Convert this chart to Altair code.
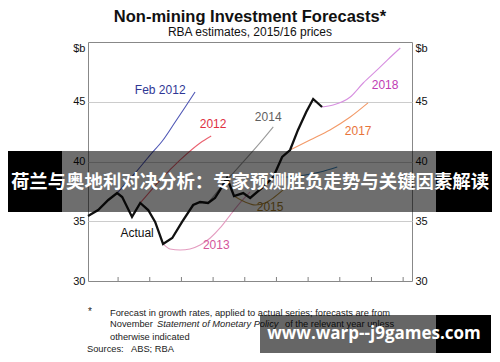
import altair as alt
import pandas as pd

W, H = 324, 239
FONT = "Liberation Sans"

TITLE = "Non-mining Investment Forecasts*"
SUBTITLE = "RBA estimates, 2015/16 prices"

# ---- data ----
ACTUAL_T = [2011.05, 2011.37, 2011.69, 2011.97, 2012.13, 2012.44, 2012.70, 2012.95, 2013.17,
            2013.42, 2013.71, 2014.02, 2014.37, 2014.59, 2014.84, 2015.06, 2015.22, 2015.44,
            2015.66, 2015.95, 2016.17, 2016.58, 2016.90, 2017.18, 2017.43, 2017.68, 2017.94,
            2018.16, 2018.44]
ACTUAL_V = [35.44, 35.94, 36.78, 37.36, 37.03, 35.36, 36.53, 35.94, 34.94,
            33.10, 33.60, 34.94, 36.36, 36.61, 36.53, 36.95, 37.62, 38.62,
            37.11, 37.36, 36.95, 37.87, 38.70, 40.38, 40.96, 42.64, 44.14,
            45.23, 44.56]

FEB2012_T = [2011.97, 2012.54, 2013.01, 2013.42, 2013.74, 2014.12, 2014.43]
FEB2012_V = [37.36, 39.04, 40.54, 41.80, 43.05, 44.56, 45.82]
F2012_T = [2012.70, 2013.33, 2013.96, 2014.59, 2014.94]
F2012_V = [36.53, 38.45, 40.13, 41.55, 42.13]
F2013_T = [2013.42, 2013.64, 2013.96, 2014.27, 2014.59, 2014.91, 2015.22, 2015.54, 2015.85, 2016.17]
F2013_V = [33.10, 32.68, 32.59, 32.68, 33.01, 33.60, 34.44, 35.52, 36.53, 37.45]
F2014_T = [2014.84, 2015.44, 2015.95, 2016.48, 2016.90]
F2014_V = [36.53, 38.45, 39.96, 41.55, 42.89]
F2015_T = [2015.66, 2016.01, 2016.33, 2016.64, 2016.90, 2017.21]
F2015_V = [37.11, 36.61, 36.36, 36.53, 36.95, 37.62]
F2016_T = [2016.90, 2017.43, 2017.91, 2018.38, 2018.92]
F2016_V = [38.70, 38.70, 38.87, 39.12, 39.54]
F2017_T = [2017.43, 2018.06, 2018.69, 2019.33, 2019.89]
F2017_V = [40.96, 41.80, 42.64, 43.72, 44.90]
F2018_T = [2018.44, 2018.79, 2019.33, 2019.74, 2020.18, 2020.50, 2020.91]
F2018_V = [44.56, 44.73, 45.40, 46.57, 47.66, 48.49, 49.50]

SERIES = ["Feb 2012", "2012", "2013", "2014", "2015", "2016", "2017", "2018"]
LINE_COLORS = ["#4f57b5", "#ea6270", "#e49cc0", "#9a9a9a", "#b89040", "#3f86bb", "#f39a68", "#d78fe0"]

LABEL_TEXT = ["Feb 2012", "2012", "2013", "2014", "2015", "2017", "2018", "Actual"]
LABEL_T = [2013.33, 2015.00, 2015.10, 2016.74, 2016.80, 2019.58, 2020.43, 2012.60]
LABEL_V = [45.98, 43.14, 33.01, 43.72, 36.19, 42.55, 46.40, 34.02]
LABEL_COLOR = ["#2f3795", "#e0303f", "#d4559a", "#5f5f5f", "#a07a26", "#e8743a", "#c03cb4", "#111111"]

Y_TICKS = [30, 35, 40, 45, 50]
X_LABEL_YEARS = [2012, 2014, 2016, 2018, 2020]
X_TICK_YEARS = [2012, 2013, 2014, 2015, 2016, 2017, 2018, 2019, 2020, 2021]

BANNER = "荷兰与奥地利对决分析：专家预测胜负走势与关键因素解读"
WATERMARK = "www.warp--j9games.com"

# ---- tables ----
rows = []
for name, ts, vs in [("Feb 2012", FEB2012_T, FEB2012_V), ("2012", F2012_T, F2012_V),
                     ("2013", F2013_T, F2013_V), ("2014", F2014_T, F2014_V),
                     ("2015", F2015_T, F2015_V), ("2016", F2016_T, F2016_V),
                     ("2017", F2017_T, F2017_V), ("2018", F2018_T, F2018_V)]:
    for t, v in zip(ts, vs):
        rows.append({"series": name, "t": t, "v": v})
fc = pd.DataFrame(rows)
act = pd.DataFrame({"t": ACTUAL_T, "v": ACTUAL_V})
lab = pd.DataFrame({"label": LABEL_TEXT, "t": LABEL_T, "v": LABEL_V, "color": LABEL_COLOR})
tk = pd.DataFrame({"year": X_TICK_YEARS})
ONE = pd.DataFrame({"k": [0]})

xs = alt.Scale(domain=[2011.05, 2021.28], nice=False, zero=False)
ys = alt.Scale(domain=[30, 50], nice=False, zero=False)

x_axis = alt.Axis(values=X_LABEL_YEARS, format="d", labelOffset=15.5, labelFlush=False,
                  ticks=False, grid=False, domain=False, labelPadding=6, labelFontSize=11.5,
                  labelColor="#111111", title=None)


def y_axis(orient, grid):
    return alt.Axis(orient=orient, values=Y_TICKS, format="d",
                    labelExpr="datum.value == 50 ? '$b' : datum.label",
                    labelBaseline={"condition": {"test": "datum.value == 50", "value": "top"},
                                   "value": "middle"},
                    grid=grid, gridColor="#cccccc", gridWidth=1,
                    gridOpacity={"condition": {"test": "datum.value == 30 || datum.value == 50",
                                               "value": 0}, "value": 1},
                    ticks=False, domain=False, labelPadding=3, labelFontSize=11,
                    labelColor="#111111", title=None)


forecast = alt.Chart(fc).mark_line(strokeWidth=1.1, interpolate="monotone").encode(
    x=alt.X("t:Q", scale=xs, axis=x_axis),
    y=alt.Y("v:Q", scale=ys, axis=y_axis("left", True)),
    color=alt.Color("series:N", scale=alt.Scale(domain=SERIES, range=LINE_COLORS), legend=None),
    detail="series:N",
)

actual = alt.Chart(act).mark_line(strokeWidth=2.3, color="#111111").encode(
    x=alt.X("t:Q", scale=xs, axis=None),
    y=alt.Y("v:Q", scale=ys, axis=y_axis("right", False)),
)

ticks = alt.Chart(tk).mark_rule(color="#808080", strokeWidth=1).encode(
    x=alt.X("year:Q", scale=xs, axis=None),
    y=alt.value(H - 4),
    y2=alt.value(H),
)

labels = alt.Chart(lab).mark_text(fontSize=12, font=FONT).encode(
    x=alt.X("t:Q", scale=xs, axis=None),
    y=alt.Y("v:Q", scale=ys, axis=None),
    text="label:N",
    color=alt.Color("color:N", scale=None),
)


def note(text, x, y, **kw):
    style = dict(font=FONT, baseline="middle", align="left", color="#222222", fontSize=9.3)
    style.update(kw)
    return alt.Chart(ONE).mark_text(text=text, **style).encode(x=alt.value(x), y=alt.value(y))


def box(x, x2, y, y2, **kw):
    return alt.Chart(ONE).mark_rect(**kw).encode(
        x=alt.value(x), x2=alt.value(x2), y=alt.value(y), y2=alt.value(y2))


annotations = [
    note(TITLE, 162, -25.5, align="center", fontSize=16.5, fontWeight="bold", color="#111111"),
    note(SUBTITLE, 162, -10, align="center", fontSize=12, color="#111111"),
    note("*", 0, 270, fontSize=10),
    note("Forecast in growth rates, applied to actual series; forecasts are from", 22, 271),
    note("November", 22, 282),
    note("Statement of Monetary Policy", 69, 282, fontStyle="italic"),
    note("of the relevant year unless", 197, 282),
    note("otherwise indicated", 22, 295),
    note("Sources:", -1, 307),
    note("ABS; RBA", 43, 307),
    # overlay banner
    box(-85, -26, 109, 170, color="#000000", opacity=1),
    box(-26, 348, 109, 170, color="#000000", opacity=0.57),
    box(348, 409, 109, 170, color="#000000", opacity=1),
    note(BANNER, 162, 140, align="center", font="Noto Sans CJK SC", fontWeight="bold",
         fontSize=18.4, color="#ffffff"),
    # watermark
    box(172, 348, 273, 311, color="#000000", opacity=0.6),
    box(348, 403, 273, 311, color="#000000", opacity=1),
    note(WATERMARK, 286, 292, align="center", font="Open Sans", fontWeight="bold",
         fontSize=17, color="#ffffff"),
]

chart = alt.layer(forecast, actual, ticks, labels, *annotations).resolve_axis(
    y="independent"
).properties(
    width=W, height=H,
    autosize=alt.AutoSizeParams(type="none"),
    padding={"left": 80, "right": 80, "top": 34, "bottom": 72},
).configure_view(
    stroke="#888888", strokeWidth=1
).configure_axis(
    labelFont=FONT
)

chart.save("out.html", embed_options={"renderer": "svg", "actions": False})
